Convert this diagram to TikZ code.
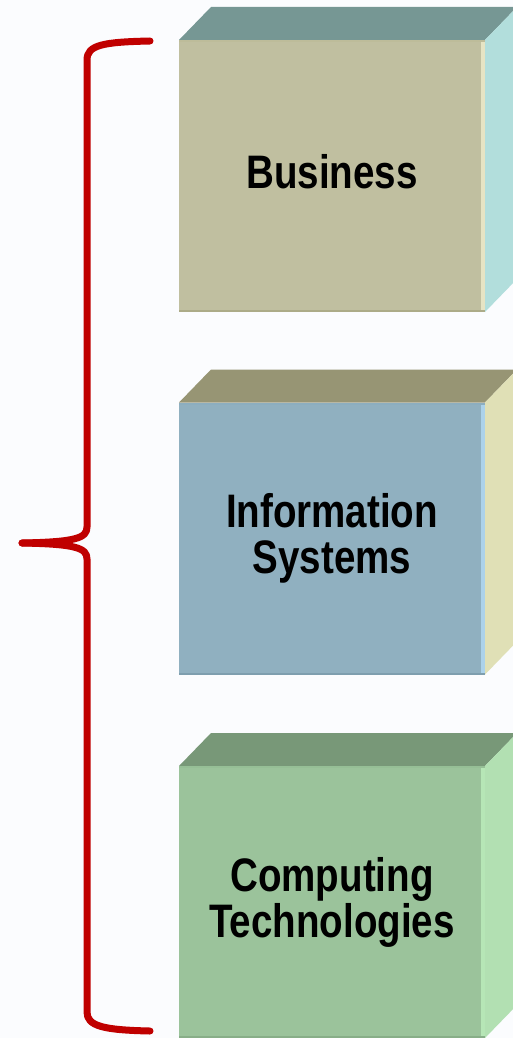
\documentclass[tikz,border=0pt]{standalone}
\usepackage{fontspec}
\newfontfamily\boxfont[FakeStretch=0.82]{Liberation Sans}
\usetikzlibrary{calc}
\definecolor{bg}{HTML}{FBFCFE}
\definecolor{braceRed}{HTML}{C00000}
\definecolor{fA}{HTML}{C0BFA0}\definecolor{tA}{HTML}{769794}\definecolor{sA}{HTML}{B2DEDC}\definecolor{eA}{HTML}{E6E4C4}\definecolor{dA}{HTML}{ACAB88}
\definecolor{fB}{HTML}{90B0C0}\definecolor{tB}{HTML}{979574}\definecolor{sB}{HTML}{E0E0B6}\definecolor{eB}{HTML}{ACD2EA}\definecolor{dB}{HTML}{7E9EAE}
\definecolor{fC}{HTML}{9BC39B}\definecolor{tC}{HTML}{789878}\definecolor{sC}{HTML}{B2E0B2}\definecolor{eC}{HTML}{B6E6B6}\definecolor{dC}{HTML}{88AE88}
\tikzset{
  front/.style={rectangle, minimum width=306pt, minimum height=272pt, inner sep=0pt, outer sep=0pt,
    align=center, font=\boxfont\bfseries\fontsize{47}{46}\selectfont, text=black},
  bracestroke/.style={draw=braceRed, line width=7pt, line cap=round, line join=round}
}
\newcommand{\cubebox}[4]{%
  % #1 node name, #2 front, #3 top, #4 side
  \fill[#3] (#1.north west) -- ++(32,-33) -- ++(306,0) -- (#1.north east) -- cycle;
  \fill[#4] (#1.north east) -- ++(32,-33) -- ++(0,272) -- (#1.south east) -- cycle;
}
\begin{document}
\begin{tikzpicture}[x=1pt,y=-1pt]
\useasboundingbox (0,0) rectangle (513,1038);
\fill[bg] (0,0) rectangle (513,1038);
\begin{scope}
\clip (0,0) rectangle (513,1038);
% front faces
\node[front, fill=fA] (biz) at (332,176) {};
\node[front, fill=fB] (info) at (332,538.5) {};
\node[front, fill=fC] (comp) at (332,902) {};
\cubebox{biz}{fA}{tA}{sA}
\cubebox{info}{fB}{tB}{sB}
\cubebox{comp}{fC}{tC}{sC}
% bevels
\foreach \n/\e/\d in {biz/eA/dA, info/eB/dB, comp/eC/dC}{
  \fill[\e] ($(\n.north east)+(-4,0)$) rectangle (\n.south east);
  \fill[\d] ($(\n.south west)+(0,-2)$) rectangle (\n.south east);
  \fill[\d!70!\e] (\n.north west) rectangle ($(\n.north east)+(0,2)$);
}
% labels
\node[front] (bizt) at (332,172) {Business};
\node[front] (infot) at (332,538.5) {Information\\Systems};
\node[front] (compt) at (332,902) {Computing\\Technologies};
\end{scope}
% brace
\coordinate (bt) at (150,41);
\coordinate (bm) at (22,543);
\coordinate (bb) at (150,1031);
\draw[bracestroke] (bt) .. controls (103,42) and (87,45) .. (87,60)
  -- (87,527) .. controls (87,538) and (76,542) .. (bm);
\draw[bracestroke] (bm) .. controls (76,544) and (87,548) .. (87,559)
  -- (87,1012) .. controls (87,1026) and (103,1030) .. (bb);
\end{tikzpicture}
\end{document}
